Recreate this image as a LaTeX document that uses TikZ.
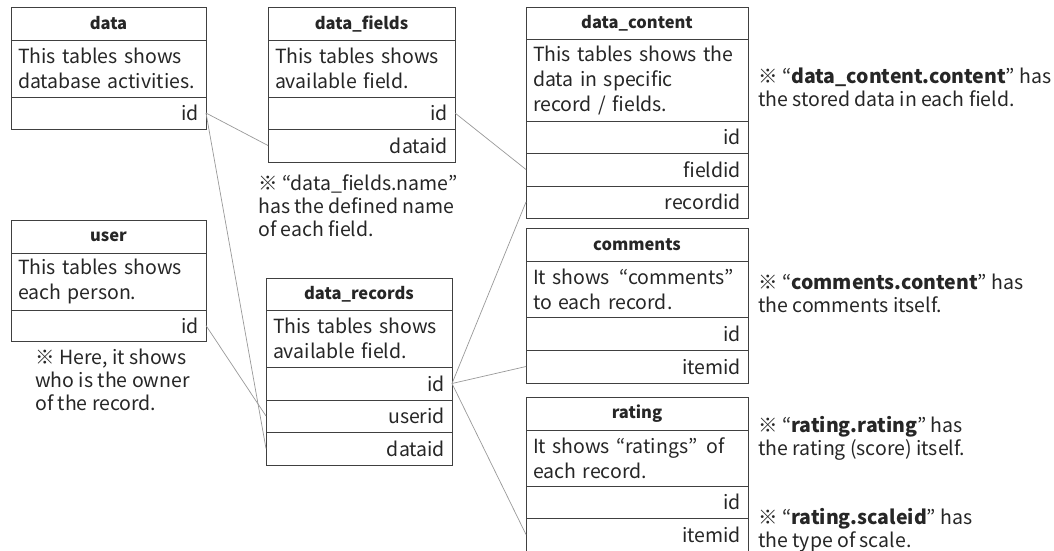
\documentclass[tikz,border=0pt]{standalone}
\usepackage{fontspec}
\setmainfont{Noto Sans CJK JP}
\begin{document}
\begin{tikzpicture}[x=1pt,y=-1pt,
  cell/.style={draw=black!75, line width=1pt, anchor=north west, inner sep=0pt, outer sep=0pt,
    text=black!85, font=\fontsize{19.5}{25}\selectfont},
  hdr/.style={cell, align=center, font=\fontsize{16.5}{22}\selectfont\bfseries},
  desc/.style={cell, align=left},
  fld/.style={cell, align=right},
  wA/.style={minimum width=195pt, text width=181pt},
  wB/.style={minimum width=187pt, text width=173pt},
  wC/.style={minimum width=186pt, text width=172pt},
  wD/.style={minimum width=222pt, text width=208pt},
  note/.style={anchor=north west, align=left, inner sep=0pt, text=black!85,
    font=\fontsize{19.5}{23}\selectfont},
  link/.style={draw=black!40, line width=0.7pt}]
\fill[white] (0,0) rectangle (1054,550);
\clip (0,0) rectangle (1054,550);
\useasboundingbox (0,0) rectangle (1054,550);

% data
\node[hdr, wA, minimum height=33pt] (d-h) at (11,7) {data};
\node[desc, wA, minimum height=57pt] (d-d) at (11,40) {This tables shows\\database activities.};
\node[fld, wA, minimum height=32pt] (d-id) at (11,97) {id};

% data_fields
\node[hdr, wB, minimum height=33pt] (f-h) at (268,7) {data\_fields};
\node[desc, wB, minimum height=57pt] (f-d) at (268,40) {This tables shows\\available field.};
\node[fld, wB, minimum height=32pt] (f-id) at (268,97) {id};
\node[fld, wB, minimum height=33pt] (f-dataid) at (268,129) {dataid};
\node[note] (f-n) at (258,175) {※ “data\_fields.name”\\has the defined name\\of each field.};

% data_content
\node[hdr, wD, minimum height=32pt] (c-h) at (526,7) {data\_content};
\node[desc, wD, minimum height=82pt] (c-d) at (526,39) {This tables shows the\\data in specific\\record / fields.};
\node[fld, wD, minimum height=32pt] (c-id) at (526,121) {id};
\node[fld, wD, minimum height=33pt] (c-fieldid) at (526,153) {fieldid};
\node[fld, wD, minimum height=32pt] (c-recordid) at (526,186) {recordid};
\node[note] (c-n) at (758,68) {※ “\textbf{data\_content.content}” has\\the stored data in each field.};

% user
\node[hdr, wA, minimum height=33pt] (u-h) at (11,220) {user};
\node[desc, wA, minimum height=57pt] (u-d) at (11,253) {This tables shows\\each person.};
\node[fld, wA, minimum height=31pt] (u-id) at (11,310) {id};
\node[note] (u-n) at (35,349) {※ Here, it shows\\who is the owner\\of the record.};

% data_records
\node[hdr, wC, minimum height=32pt] (r-h) at (266,278) {data\_records};
\node[desc, wC, minimum height=57pt] (r-d) at (266,310) {This tables shows\\available field.};
\node[fld, wC, minimum height=33pt] (r-id) at (266,367) {id};
\node[fld, wC, minimum height=32pt] (r-userid) at (266,400) {userid};
\node[fld, wC, minimum height=33pt] (r-dataid) at (266,432) {dataid};

% comments
\node[hdr, wD, minimum height=33pt] (m-h) at (526,228) {comments};
\node[desc, wD, minimum height=56pt] (m-d) at (526,261) {It shows \,“comments”\\to each record.};
\node[fld, wD, minimum height=33pt] (m-id) at (526,317) {id};
\node[fld, wD, minimum height=33pt] (m-itemid) at (526,350) {itemid};
\node[note] (m-n) at (758,274) {※ “\textbf{comments.content}” has\\the comments itself.};

% rating
\node[hdr, wD, minimum height=33pt] (t-h) at (526,397) {rating};
\node[desc, wD, minimum height=56pt] (t-d) at (526,430) {It shows “ratings” \,of\\each record.};
\node[fld, wD, minimum height=32pt] (t-id) at (526,486) {id};
\node[fld, wD, minimum height=33pt] (t-itemid) at (526,518) {itemid};
\node[note] (t-n1) at (758,416) {※ “\textbf{rating.rating}” has\\the rating (score) itself.};
\node[note] (t-n2) at (758,508) {※ “\textbf{rating.scaleid}” has\\the type of scale.};

% connectors
\draw[link] (d-id.east) -- (f-dataid.west);
\draw[link] (d-id.east) -- (r-dataid.west);
\draw[link] (u-id.east) -- (r-userid.west);
\draw[link] (f-id.east) -- (c-fieldid.west);
\draw[link] (r-id.east) -- (c-recordid.west);
\draw[link] (r-id.east) -- (m-itemid.west);
\draw[link] (r-id.east) -- (t-itemid.west);
\end{tikzpicture}
\end{document}
